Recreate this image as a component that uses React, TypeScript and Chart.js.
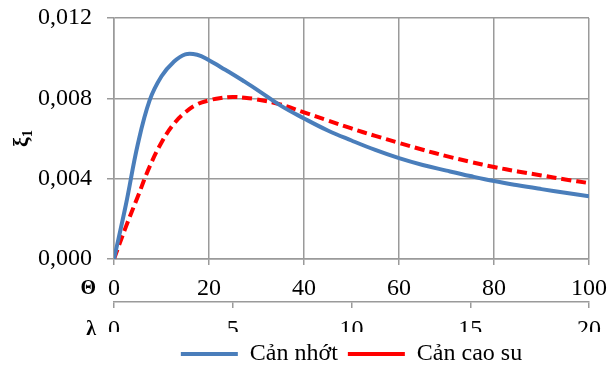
import React, { useEffect, useRef } from 'react';
import { Chart, registerables } from 'chart.js';

Chart.register(...registerables);

const theta = [0, 2.5, 5, 7.5, 10, 12.5, 15, 17.5, 20, 22.5, 25, 27.5, 30, 35, 40, 45, 50, 55, 60, 65, 70, 75, 80, 85, 90, 95, 100];
const viscousDamping = [0, 0.0027, 0.0057, 0.0079, 0.0091, 0.0098, 0.01019, 0.01017, 0.0099, 0.00955, 0.0092, 0.00883, 0.00845, 0.00765, 0.007, 0.0064, 0.0059, 0.00543, 0.00502, 0.00468, 0.0044, 0.00413, 0.00388, 0.00367, 0.00348, 0.0033, 0.00312];
const rubberDamping = [0, 0.0016, 0.0031, 0.0046, 0.0058, 0.0067, 0.0073, 0.0077, 0.0079, 0.00802, 0.00807, 0.00803, 0.00795, 0.0077, 0.0073, 0.0069, 0.0065, 0.00613, 0.00578, 0.00544, 0.00512, 0.00484, 0.00458, 0.00436, 0.00416, 0.00396, 0.00378];
const seriesNames = ['Cản nhớt', 'Cản cao su'];
const yTickLabels = ['0,000', '0,004', '0,008', '0,012'];
const thetaTicks = { min: 0, max: 100, step: 20 };
const lambdaTicks = { min: 0, max: 20, step: 5 };
const thetaName = 'Θ';
const lambdaName = 'λ';
const yName = 'ξ';
const ySub = '1';

const FONT = '"Liberation Serif", "Times New Roman", serif';
const GRID = '#9a9a9a';

export default function App() {
  const ref = useRef<HTMLCanvasElement>(null);
  useEffect(() => {
    if (!ref.current) return;
    const axisNames = {
      id: 'axisNames',
      afterDraw(chart: any) {
        const { ctx, chartArea, scales } = chart;
        ctx.save();
        ctx.fillStyle = '#000';
        ctx.font = `bold 20px ${FONT}`;
        ctx.textAlign = 'right';
        ctx.textBaseline = 'middle';
        ctx.fillText(thetaName, chartArea.left - 18, scales.x.top + 30);
        ctx.fillText(lambdaName, chartArea.left - 18, scales.x2.top + 28);
        // y title, rotated
        ctx.translate(24, (chartArea.top + chartArea.bottom) / 2);
        ctx.rotate(-Math.PI / 2);
        ctx.font = `bold 22px ${FONT}`;
        const w1 = ctx.measureText(yName).width;
        ctx.font = `bold 14px ${FONT}`;
        const w2 = ctx.measureText(ySub).width;
        const start = -(w1 + w2) / 2;
        ctx.textAlign = 'left';
        ctx.font = `bold 22px ${FONT}`;
        ctx.fillText(yName, start, -2);
        ctx.font = `bold 14px ${FONT}`;
        ctx.fillText(ySub, start + w1, 4);
        ctx.restore();
      },
    };
    const tickFont = { family: FONT, size: 24, lineHeight: 1.0 };
    const chart = new Chart(ref.current, {
      type: 'line',
      data: {
        datasets: [
          {
            label: seriesNames[0],
            data: theta.map((t, i) => ({ x: t, y: viscousDamping[i] })),
            borderColor: '#4a7ebb',
            backgroundColor: '#4a7ebb',
            borderWidth: 4,
            pointRadius: 0,
            tension: 0.4,
            xAxisID: 'x',
            yAxisID: 'y',
          },
          {
            label: seriesNames[1],
            data: theta.map((t, i) => ({ x: t, y: rubberDamping[i] })),
            borderColor: '#ff0000',
            backgroundColor: '#ff0000',
            borderWidth: 4,
            borderDash: [10, 5],
            pointRadius: 0,
            tension: 0.4,
            xAxisID: 'x',
            yAxisID: 'y',
          },
        ],
      },
      options: {
        animation: false,
        responsive: true,
        maintainAspectRatio: false,
        layout: { padding: { left: 14, right: 27, top: 18, bottom: 0 } },
        scales: {
          x: {
            type: 'linear',
            position: 'bottom',
            min: thetaTicks.min,
            max: thetaTicks.max,
            afterFit: (s: any) => { s.height = 43; s.paddingLeft = 0; s.paddingRight = 0; },
            ticks: {
              stepSize: thetaTicks.step,
              color: '#000',
              font: tickFont,
              padding: 12,
              maxRotation: 0,
            },
            grid: { color: GRID, lineWidth: 1.5, tickLength: 6, drawTicks: true },
            border: { display: true, color: GRID, width: 1.5 },
          },
          x2: {
            type: 'linear',
            position: 'bottom',
            min: lambdaTicks.min,
            max: lambdaTicks.max,
            afterFit: (s: any) => { s.height = 30; s.paddingLeft = 0; s.paddingRight = 0; },
            ticks: {
              stepSize: lambdaTicks.step,
              color: '#000',
              font: tickFont,
              padding: 10,
              maxRotation: 0,
            },
            grid: { color: GRID, lineWidth: 1.5, tickLength: 6, drawOnChartArea: false, drawTicks: true },
            border: { display: true, color: GRID, width: 1.5 },
          },
          y: {
            type: 'linear',
            position: 'left',
            min: 0,
            max: 0.012,
            afterFit: (s: any) => { s.width = 100; s.paddingTop = 0; s.paddingBottom = 0; },
            ticks: {
              stepSize: 0.004,
              color: '#000',
              font: tickFont,
              padding: 15,
              callback: (v: any) => yTickLabels[Math.round(Number(v) / 0.004)] ?? '',
            },
            grid: { color: GRID, lineWidth: 1.5, tickLength: 7 },
            border: { display: true, color: GRID, width: 1.5 },
          },
        },
        plugins: {
          legend: {
            position: 'bottom',
            fullSize: false,
            maxHeight: 35,
            labels: {
              color: '#000',
              font: { family: FONT, size: 24 },
              usePointStyle: true,
              pointStyle: 'line',
              pointStyleWidth: 57,
              padding: 10,
            },
          },
          tooltip: { enabled: false },
        },
      } as any,
      plugins: [axisNames],
    });
    return () => chart.destroy();
  }, []);
  return (
    <div style={{ position: 'fixed', left: 0, top: 0, width: 616, height: 367, background: '#fff' }}>
      <canvas ref={ref} />
    </div>
  );
}
